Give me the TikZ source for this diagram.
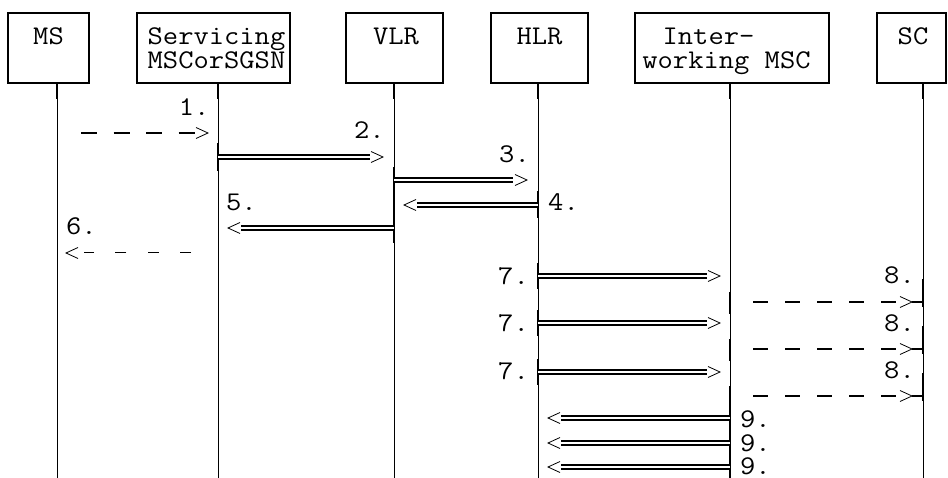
\documentclass[tikz,border=0pt]{standalone}
\usepackage{fontspec}
\setmonofont[FakeStretch=1.1]{Latin Modern Mono}
\usetikzlibrary{arrows.meta,positioning,calc}
\newcommand{\entstrut}{\rule{0pt}{22pt}}

\begin{document}
\begin{tikzpicture}[x=1pt,y=-1pt,font=\ttfamily\fontsize{27}{24}\selectfont,
 ent/.style={draw,line width=1.4pt,minimum height=70pt,inner sep=0pt},
 entname/.style={anchor=north,inner sep=0pt,align=center,yshift=-10pt},
 life/.style={line width=0.9pt},
 act/.style={line width=2.2pt},
 dbl/.style={double,double distance=2.2pt,line width=1.7pt},
 dsh/.style={line width=1.8pt,dash pattern=on 16pt off 16.5pt},
 chevR/.pic={\draw[line width=0.8pt] (-12,-5.5) -- (0,0) -- (-12,5.5);},
 chevL/.pic={\draw[line width=0.8pt] (12,-5.5) -- (0,0) -- (12,5.5);},
 num/.style={anchor=base west,inner sep=0pt}]
\useasboundingbox (0,0) rectangle (948,478);
% entities
\node[ent,minimum width=81pt] (ms) at (48.5,48) {};
\node[ent,minimum width=153pt] (srv) at (213.5,48) {};
\node[ent,minimum width=97pt] (vlr) at (394.5,48) {};
\node[ent,minimum width=97pt] (hlr) at (539.5,48) {};
\node[ent,minimum width=194pt] (iwm) at (732,48) {};
\node[ent,minimum width=69pt] (sc) at (911.5,48) {};
\node[entname] (msT) at (ms.north) {\entstrut MS};
\node[entname,xshift=3pt] (srvT) at (srv.north) {\entstrut Servicing\\MSCorSGSN};
\node[entname,xshift=1.5pt] (vlrT) at (vlr.north) {\entstrut VLR};
\node[entname] (hlrT) at (hlr.north) {\entstrut HLR};
\node[entname,align=left,xshift=-5.5pt] (iwmT) at (iwm.north) {\entstrut\hspace*{0.75em}Inter-\\working MSC};
\node[entname,xshift=1.5pt] (scT) at (sc.north) {\entstrut SC};
% lifelines
\coordinate (msl) at ([xshift=8.5pt]ms.south);
\coordinate (srvl) at ([xshift=4.5pt]srv.south);
\coordinate (vlrl) at ([xshift=-0.5pt]vlr.south);
\coordinate (hlrl) at ([xshift=-1.5pt]hlr.south);
\coordinate (iwml) at ([xshift=-2pt]iwm.south);
\coordinate (scl) at ([xshift=11.5pt]sc.south);
\foreach \l in {msl,srvl,vlrl,hlrl,iwml,scl} {\draw[life] (\l) -- (\l |- 0,478); \draw[act] (\l) -- ++(0,15);}
\draw[act] (srvl |- 0,143) -- (srvl |- 0,171);
\draw[act] (vlrl |- 0,167) -- (vlrl |- 0,243);
\draw[act] (hlrl |- 0,191) -- (hlrl |- 0,218);
\draw[act] (hlrl |- 0,263) -- (hlrl |- 0,289); \draw[act] (hlrl |- 0,310) -- (hlrl |- 0,336); \draw[act] (hlrl |- 0,359) -- (hlrl |- 0,385);
\draw[act] (iwml |- 0,292) -- (iwml |- 0,314); \draw[act] (iwml |- 0,339) -- (iwml |- 0,361); \draw[act] (iwml |- 0,386) -- (iwml |- 0,478);
\draw[act] (scl |- 0,279) -- (scl |- 0,307); \draw[act] (scl |- 0,326) -- (scl |- 0,354); \draw[act] (scl |- 0,373) -- (scl |- 0,401);
% messages 1-6
\coordinate (m1a) at (81,133); \coordinate (m1b) at (194.5,133); \coordinate (m1t) at (208,133);
\draw[dsh] (m1a) -- (m1b); \pic at (m1t) {chevR};
\coordinate (m2t) at (383,157);
\draw[dbl] (srvl |- m2t) -- ([xshift=-13pt]m2t); \pic at (m2t) {chevR};
\coordinate (m3t) at (527,180);
\draw[dbl] (vlrl |- m3t) -- ([xshift=-14pt]m3t); \pic at (m3t) {chevR};
\coordinate (m4t) at (404,205);
\draw[dbl] (hlrl |- m4t) -- ([xshift=13pt]m4t); \pic at (m4t) {chevL};
\coordinate (m5t) at (228,228);
\draw[dbl] (vlrl |- m5t) -- ([xshift=13pt]m5t); \pic at (m5t) {chevL};
\coordinate (m6a) at (191,253); \coordinate (m6b) at (84,253); \coordinate (m6t) at (66,253);
\draw[line width=1pt,dash pattern=on 11pt off 21.3pt] (m6a) -- (m6b); \pic at (m6t) {chevL};
% messages 7-9
\coordinate (m7t1) at (720,276); \coordinate (m7t2) at (720,323); \coordinate (m7t3) at (720,372);
\draw[dbl] (hlrl |- m7t1) -- ([xshift=-13pt]m7t1); \pic at (m7t1) {chevR};
\draw[dbl] (hlrl |- m7t2) -- ([xshift=-13pt]m7t2); \pic at (m7t2) {chevR};
\draw[dbl] (hlrl |- m7t3) -- ([xshift=-13pt]m7t3); \pic at (m7t3) {chevR};
\coordinate (m8a1) at (753,302); \coordinate (m8t1) at (912,302);
\coordinate (m8a2) at (753,349); \coordinate (m8t2) at (912,349);
\coordinate (m8a3) at (753,396); \coordinate (m8t3) at (912,396);
\draw[dsh,dash pattern=on 15pt off 17pt] (m8a1) -- ([xshift=-13pt]m8t1); \pic at (m8t1) {chevR}; \draw[line width=1.8pt] (m8t1) -- (scl |- m8t1);
\draw[dsh,dash pattern=on 15pt off 17pt] (m8a2) -- ([xshift=-13pt]m8t2); \pic at (m8t2) {chevR}; \draw[line width=1.8pt] (m8t2) -- (scl |- m8t2);
\draw[dsh,dash pattern=on 15pt off 17pt] (m8a3) -- ([xshift=-13pt]m8t3); \pic at (m8t3) {chevR}; \draw[line width=1.8pt] (m8t3) -- (scl |- m8t3);
\coordinate (m9t1) at (548,418); \coordinate (m9t2) at (548,443); \coordinate (m9t3) at (548,467);
\draw[dbl] (iwml |- m9t1) -- ([xshift=13pt]m9t1); \pic at (m9t1) {chevL};
\draw[dbl] (iwml |- m9t2) -- ([xshift=13pt]m9t2); \pic at (m9t2) {chevL};
\draw[dbl] (iwml |- m9t3) -- ([xshift=13pt]m9t3); \pic at (m9t3) {chevL};
% step numbers
\node[num] (l1) at (178.6,116) {1.};
\node[num] (l2) at (354,139) {2.};
\node[num] (l3) at (499,163) {3.};
\node[num] (l4) at (548,211) {4.};
\node[num] (l5) at (226,211) {5.};
\node[num] (l6) at (66,235) {6.};
\node[num] (l7a) at (498,285) {7.}; \node[num] (l7b) at (498,332) {7.}; \node[num] (l7c) at (498,379) {7.};
\node[num] (l8a) at (884,284) {8.}; \node[num] (l8b) at (884,331) {8.}; \node[num] (l8c) at (884,378) {8.};
\node[num] (l9a) at (740,427) {9.}; \node[num] (l9b) at (740,451) {9.}; \node[num] (l9c) at (740,474) {9.};
\end{tikzpicture}
\end{document}
